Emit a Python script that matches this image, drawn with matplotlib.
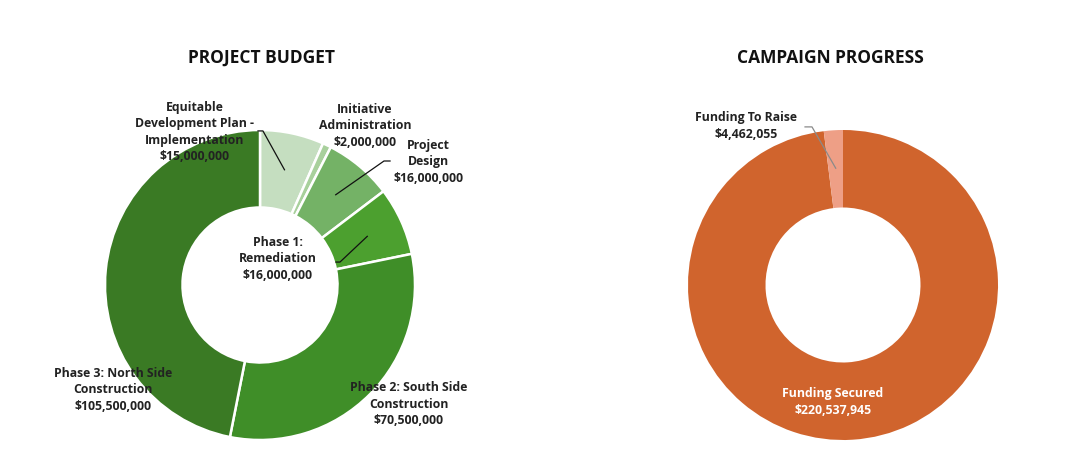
import numpy as np
import matplotlib.pyplot as plt

# project budget
budget_labels = ['Equitable\nDevelopment Plan -\nImplementation', 'Initiative\nAdministration',
                 'Project\nDesign', 'Phase 1:\nRemediation', 'Phase 2: South Side\nConstruction',
                 'Phase 3: North Side\nConstruction']
budget_values = [15000000, 2000000, 16000000, 16000000, 70500000, 105500000]
budget_colors = ['#C5DEC0', '#A8D09C', '#74B266', '#4CA02F', '#3F8E28', '#3A7A24']

# campaign progress
campaign_labels = ['Funding Secured', 'Funding To Raise']
campaign_values = [220537945, 4462055]
campaign_colors = ['#D0642D', '#EE9F86']

W, H = 1065, 472
R = 155.0
fig = plt.figure(figsize=(W / 100, H / 100), dpi=100)

lab_font = dict(family=['Open Sans', 'DejaVu Sans'], weight='bold', fontsize=8.8,
                ha='center', va='center', linespacing=1.35, color='#222222')


def donut_axes(cx, cy):
    bw, bh = 520, 380
    ax = fig.add_axes([(cx - bw / 2) / W, (H - cy - bh / 2) / H, bw / W, bh / H])
    return ax, bw / 2 / R, bh / 2 / R


def money(v):
    return '${:,}'.format(v)


# left donut
ax, hx, hy = donut_axes(260, 285)
wedges, _ = ax.pie(budget_values, colors=budget_colors, startangle=90, counterclock=False,
                   radius=1, wedgeprops=dict(width=0.5, edgecolor='white', linewidth=1.8))
ax.set_xlim(-hx, hx)
ax.set_ylim(-hy, hy)
ax.set_aspect('auto')

label_pos = [(-0.42, 0.987), (0.677, 1.026), (1.084, 0.794),
             (0.116, 0.168), (0.961, -0.768), (-0.948, -0.677)]
for name, val, pos in zip(budget_labels, budget_values, label_pos):
    ax.text(pos[0], pos[1], name + '\n' + money(val), **lab_font)

# leader lines: (wedge index, elbow, end)
leaders = [(0, (0.019, 0.994), (-0.013, 0.994)),
           (2, (0.80, 0.80), (0.839, 0.80)),
           (3, (0.516, 0.148), (0.49, 0.148))]
for i, elbow, end in leaders:
    w = wedges[i]
    a = np.deg2rad((w.theta1 + w.theta2) / 2)
    p = (0.76 * np.cos(a), 0.76 * np.sin(a))
    ax.plot([p[0], elbow[0], end[0]], [p[1], elbow[1], end[1]], color='#111111', lw=0.9)

# right donut
ax2, hx, hy = donut_axes(843, 285)
wedges2, _ = ax2.pie(campaign_values, colors=campaign_colors, startangle=90, counterclock=False,
                     radius=1, wedgeprops=dict(width=0.5, linewidth=0))
ax2.set_xlim(-hx, hx)
ax2.set_ylim(-hy, hy)
ax2.set_aspect('auto')

ax2.text(-0.065, -0.755, campaign_labels[0] + '\n' + money(campaign_values[0]),
         **{**lab_font, 'color': 'white'})
ax2.text(-0.626, 1.026, campaign_labels[1] + '\n' + money(campaign_values[1]), **lab_font)
w = wedges2[1]
a = np.deg2rad((w.theta1 + w.theta2) / 2)
ax2.plot([0.755 * np.cos(a), -0.2, -0.245], [0.755 * np.sin(a), 1.02, 1.02],
         color='#8a8a8a', lw=0.9)

title_font = dict(family=['Open Sans', 'DejaVu Sans'], weight='bold', fontsize=12.5,
                  ha='center', va='center', color='#111111')
fig.text(261 / W, 1 - 58 / H, 'PROJECT BUDGET', **title_font)
fig.text(830 / W, 1 - 58 / H, 'CAMPAIGN PROGRESS', **title_font)

fig.savefig('out.png', dpi=100)
